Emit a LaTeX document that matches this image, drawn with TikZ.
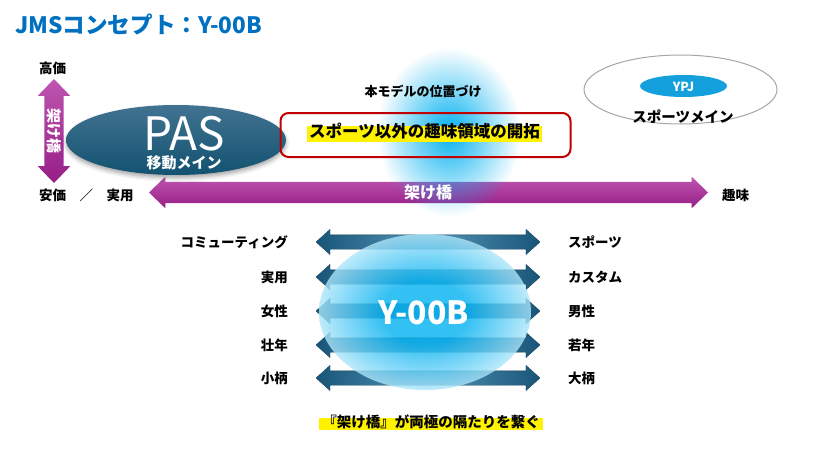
\documentclass[tikz,border=0pt]{standalone}
\usepackage{fontspec}
\setmainfont{Noto Sans CJK JP}
\usepackage{tikz}
\usetikzlibrary{shapes.arrows,shapes.geometric,fadings,shadows.blur}
\definecolor{titleblue}{RGB}{0,112,192}
\definecolor{glowblue}{RGB}{0,176,240}
\definecolor{purpdark}{RGB}{150,30,135}
\definecolor{purplight}{RGB}{190,85,175}
\definecolor{arrdark}{RGB}{25,85,120}
\definecolor{arrlight}{RGB}{85,150,185}
\definecolor{pastop}{RGB}{65,115,145}
\definecolor{pasbot}{RGB}{18,82,112}
\definecolor{ypjblue}{RGB}{20,160,220}
\definecolor{boxred}{RGB}{192,0,0}
\def\fs#1{\fontsize{#1}{#1}\selectfont}
\tikzfading[name=glowfade, inner color=transparent!0, outer color=transparent!100]
\pgfdeclareradialshading{glowshade}{\pgfpoint{0bp}{0bp}}{color(0bp)=(glowblue); color(10bp)=(glowblue); color(20bp)=(glowblue!55!white); color(28bp)=(glowblue!18!white); color(35bp)=(white); color(50bp)=(white)}
\tikzset{
	lbl/.style={font=\fs{13.5}\bfseries, inner sep=0pt},
	hilite/.style={fill=yellow, inner xsep=2pt, inner ysep=2.5pt, text height=0.85em, text depth=0.2em},
	bluearrow/.style={double arrow, inner xsep=0pt, inner ysep=7pt, minimum height=224pt, minimum width=25pt, double arrow head extend=5.5pt, double arrow tip angle=84, left color=arrdark, right color=arrdark, middle color=arrlight, draw=arrdark!70!black, line width=0.3pt},
	bridge/.style={double arrow, inner xsep=0pt, double arrow tip angle=88, top color=purplight, bottom color=purpdark},
	bridgetext/.style={text=white, inner sep=0pt, font=\fs{15}\bfseries}
}

\begin{document}
\begin{tikzpicture}[x=1pt, y=-1pt]
			%%%%% START %%%%%
			\useasboundingbox (0, 0) rectangle (820, 461);
			
			\node[anchor=west, inner sep=0pt, text=titleblue, font=\fs{22.6}\bfseries] (title) at (15, 24) {JMSコンセプト：Y-00B};
			
			\node[lbl, anchor=west] (high) at (39, 68) {高価};
			\node[lbl, anchor=west] (low) at (39, 195) {安価　／　実用};
			\node[lbl, anchor=west] (hobby) at (722, 195) {趣味};
			
			\node[bridge, rotate=-90, inner ysep=9.5pt, minimum height=104pt, minimum width=32pt, double arrow head extend=6.5pt] (vbridge) at (54, 131) {};
			\node[bridgetext, rotate=-90] (vbridgetext) at (vbridge) {架け橋};
			\node[bridge, inner ysep=10.5pt, minimum height=559pt, minimum width=31pt, double arrow head extend=5pt] (hbridge) at (428.5, 192.5) {};
			
			\node[ellipse, minimum width=220pt, minimum height=70pt, top color=pastop, bottom color=pasbot, blur shadow={shadow xshift=0pt, shadow yshift=-3pt, shadow blur radius=4pt, shadow opacity=35}] (pas) at (176, 140) {};
			\node[text=white, inner sep=0pt, font=\fs{46}] (pasname) at (184, 134) {PAS};
			\node[text=white, inner sep=0pt, font=\fs{15}\bfseries] (pasuse) at (184, 163) {移動メイン};
			
			\fill[glowblue, path fading=glowfade] (449, 132) ellipse (72 and 84);
			\node[bridgetext, font=\fs{16}\bfseries] (hbridgetext) at (428, 192) {架け橋};
			
			\node[font=\fs{13}\bfseries, inner sep=0pt] (modelnote) at (423, 91) {本モデルの位置づけ};
			\node[draw=boxred, line width=2pt, rounded corners=8pt, minimum width=290pt, minimum height=44pt] (posbox) at (425.5, 135) {};
			\node[hilite, font=\fs{16.5}\bfseries] (postext) at (424.5, 134) {スポーツ以外の趣味領域の開拓};
			
			\node[ellipse, draw=black!35, line width=1pt, minimum width=193pt, minimum height=69pt] (sportsring) at (680.5, 89.5) {};
			\node[ellipse, fill=ypjblue, minimum width=87pt, minimum height=22pt] (ypjdisc) at (683.5, 86) {};
			\node[text=white, inner sep=0pt, font=\fs{12.5}\bfseries] (ypj) at (683.5, 87) {YPJ};
			\node[inner sep=0pt, font=\fs{14.5}\bfseries] (sportsmain) at (683, 117) {スポーツメイン};
			
			\node[bluearrow] (rowA) at (428, 242) {};
			\node[bluearrow] (rowB) at (428, 277) {};
			\node[bluearrow] (rowC) at (428, 311) {};
			\node[bluearrow] (rowD) at (428, 345) {};
			\node[bluearrow] (rowE) at (428, 378) {};
			
			\shade[shading=glowshade, fill opacity=0.8] (425, 312) ellipse (106 and 78);
			\node[text=white, inner sep=0pt, font=\fs{32}\bfseries] (model) at (424, 313) {Y-00B};
			
			\node[lbl, anchor=east] (leftA) at (288, 242) {コミューティング};
			\node[lbl, anchor=east] (leftB) at (288, 277) {実用};
			\node[lbl, anchor=east] (leftC) at (288, 311) {女性};
			\node[lbl, anchor=east] (leftD) at (288, 345) {壮年};
			\node[lbl, anchor=east] (leftE) at (288, 378) {小柄};
			
			\node[lbl, anchor=west] (rightA) at (568, 242) {スポーツ};
			\node[lbl, anchor=west] (rightB) at (568, 277) {カスタム};
			\node[lbl, anchor=west] (rightC) at (568, 311) {男性};
			\node[lbl, anchor=west] (rightD) at (568, 345) {若年};
			\node[lbl, anchor=west] (rightE) at (568, 378) {大柄};
			
			\node[hilite, inner xsep=3pt, inner ysep=1pt, font=\fs{14.5}\bfseries] (motto) at (431, 424) {『架け橋』が両極の隔たりを繋ぐ};
			
			%%%%% END %%%%%
		\end{tikzpicture}
\end{document}
